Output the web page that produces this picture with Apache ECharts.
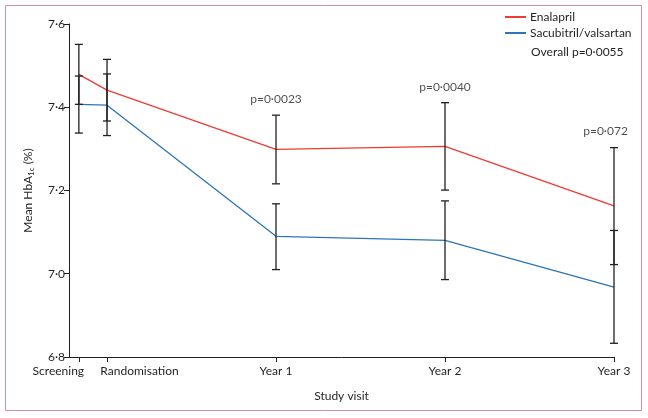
<!DOCTYPE html>
<html>
<head>
<meta charset="utf-8">
<script src="https://cdn.jsdelivr.net/npm/echarts@6/dist/echarts.min.js"></script>
<style>
  html, body { margin: 0; padding: 0; background: #fff; }
  #chart { width: 648px; height: 418px; }
</style>
</head>
<body>
<div id="chart"></div>
<script>
// visit positions in months from randomisation
const visitNames = ['Screening', 'Randomisation', 'Year 1', 'Year 2', 'Year 3'];
const visitX = [-2, 0, 12, 24, 36];

const enalaprilMean = [7.479, 7.441, 7.299, 7.306, 7.163];
const enalaprilLow = [7.407, 7.367, 7.216, 7.201, 7.022];
const enalaprilHigh = [7.551, 7.515, 7.381, 7.411, 7.303];

const sacubitrilMean = [7.407, 7.405, 7.090, 7.080, 6.968];
const sacubitrilLow = [7.338, 7.332, 7.010, 6.986, 6.833];
const sacubitrilHigh = [7.475, 7.480, 7.168, 7.175, 7.104];

const pLabels = ['p=0·0023', 'p=0·0040', 'p=0·072'];
const pLabelX = [12, 24, 35.4];
const pLabelY = [7.42, 7.449, 7.343];

const font = 'Lato, "Open Sans", sans-serif';
const textColor = '#231f20';

function pairs(xs, ys) {
  return xs.map((x, i) => [x, ys[i]]);
}

function errData(low, high) {
  return visitX.map((x, i) => [x, low[i], high[i]]);
}

function visitName(v) {
  let i = visitX.indexOf(v);
  return i >= 0 ? visitNames[i] : '';
}

function renderErr(params, api) {
  let top = api.coord([api.value(0), api.value(2)]);
  let bot = api.coord([api.value(0), api.value(1)]);
  let hw = 4;
  let style = { stroke: '#231f20', lineWidth: 1.3 };
  return {
    type: 'group',
    children: [
      { type: 'line', shape: { x1: top[0], y1: top[1], x2: bot[0], y2: bot[1] }, style: style },
      { type: 'line', shape: { x1: top[0] - hw, y1: top[1], x2: top[0] + hw, y2: top[1] }, style: style },
      { type: 'line', shape: { x1: bot[0] - hw, y1: bot[1], x2: bot[0] + hw, y2: bot[1] }, style: style }
    ]
  };
}

let chart = echarts.init(document.getElementById('chart'));

let option = {
  backgroundColor: '#fff',
  animation: false,
  textStyle: { fontFamily: font, color: textColor },
  grid: { left: 69, right: 34, top: 24, bottom: 61 },
  legend: {
    orient: 'vertical',
    left: 505,
    top: 11,
    padding: 0,
    itemWidth: 21,
    itemHeight: 2,
    itemGap: 4,
    icon: 'rect',
    textStyle: { fontFamily: font, fontSize: 12, color: textColor, padding: [0, 0, 0, -1] },
    data: ['Enalapril', 'Sacubitril/valsartan']
  },
  graphic: [
    {
      type: 'rect',
      shape: { x: 5.5, y: 5.5, width: 636, height: 405 },
      style: { fill: null, stroke: '#d98aa8', lineWidth: 1 },
      silent: true
    },
    {
      type: 'text',
      left: 531,
      top: 46,
      style: { text: 'Overall p=0·0055', font: '12px ' + font, fill: textColor }
    }
  ],
  xAxis: [
    {
      type: 'value',
      min: -2.7,
      max: 36,
      position: 'bottom',
      name: 'Study visit',
      nameLocation: 'middle',
      nameGap: 33,
      nameTextStyle: { fontSize: 12, color: textColor },
      splitLine: { show: false },
      axisLine: { onZero: false, lineStyle: { color: '#231f20', width: 1 } },
      axisTick: { customValues: visitX, length: 5, inside: false, lineStyle: { color: '#231f20' } },
      axisLabel: {
        customValues: visitX.slice(1),
        margin: 8,
        fontSize: 12,
        color: textColor,
        formatter: function (v) {
          return v === 0 ? '{r|' + visitName(v) + '}' : visitName(v);
        },
        rich: { r: { fontSize: 12, color: textColor, padding: [0, 0, 0, 65] } }
      }
    },
    {
      // second axis only carries the Screening label, shifted left like the original
      type: 'value',
      min: -2.7,
      max: 36,
      position: 'bottom',
      offset: 0,
      splitLine: { show: false },
      axisLine: { show: false, onZero: false },
      axisTick: { show: false },
      axisLabel: {
        customValues: visitX.slice(0, 1),
        margin: 8,
        fontSize: 12,
        color: textColor,
        formatter: function (v) { return '{l|' + visitName(v) + '}'; },
        rich: { l: { fontSize: 12, color: textColor, padding: [0, 41, 0, 0] } }
      }
    }
  ],
  yAxis: {
    type: 'value',
    min: 6.8,
    max: 7.6,
    interval: 0.2,
    name: 'Mean HbA{sub|1c} (%)',
    nameLocation: 'middle',
    nameGap: 34,
    nameRotate: 90,
    nameTextStyle: {
      fontSize: 12,
      color: textColor,
      rich: { sub: { fontSize: 8, verticalAlign: 'bottom', padding: [6, 0, 0, 0], color: textColor } }
    },
    splitLine: { show: false },
    axisLine: { show: true, onZero: false, lineStyle: { color: '#231f20', width: 1 } },
    axisTick: { show: true, length: 5, lineStyle: { color: '#231f20' } },
    axisLabel: {
      margin: 4,
      fontSize: 12,
      color: textColor,
      formatter: function (v) { return v.toFixed(1).replace('.', '·'); }
    }
  },
  series: [
    {
      name: 'Enalapril',
      type: 'line',
      data: pairs(visitX, enalaprilMean),
      symbol: 'none',
      color: '#ee3b33',
      lineStyle: { width: 1.3, color: '#ee3b33' },
      z: 3
    },
    {
      name: 'Sacubitril/valsartan',
      type: 'line',
      data: pairs(visitX, sacubitrilMean),
      symbol: 'none',
      color: '#2e75b6',
      lineStyle: { width: 1.3, color: '#2e75b6' },
      z: 3
    },
    {
      type: 'custom',
      renderItem: renderErr,
      data: errData(enalaprilLow, enalaprilHigh),
      encode: { x: 0, y: [1, 2] },
      z: 4
    },
    {
      type: 'custom',
      renderItem: renderErr,
      data: errData(sacubitrilLow, sacubitrilHigh),
      encode: { x: 0, y: [1, 2] },
      z: 4
    },
    {
      type: 'scatter',
      symbolSize: 0,
      data: pairs(pLabelX, pLabelY),
      label: {
        show: true,
        position: 'inside',
        fontSize: 12,
        color: textColor,
        fontFamily: font,
        formatter: function (p) { return pLabels[p.dataIndex]; }
      },
      z: 5
    }
  ]
};

chart.setOption(option);
</script>
</body>
</html>
